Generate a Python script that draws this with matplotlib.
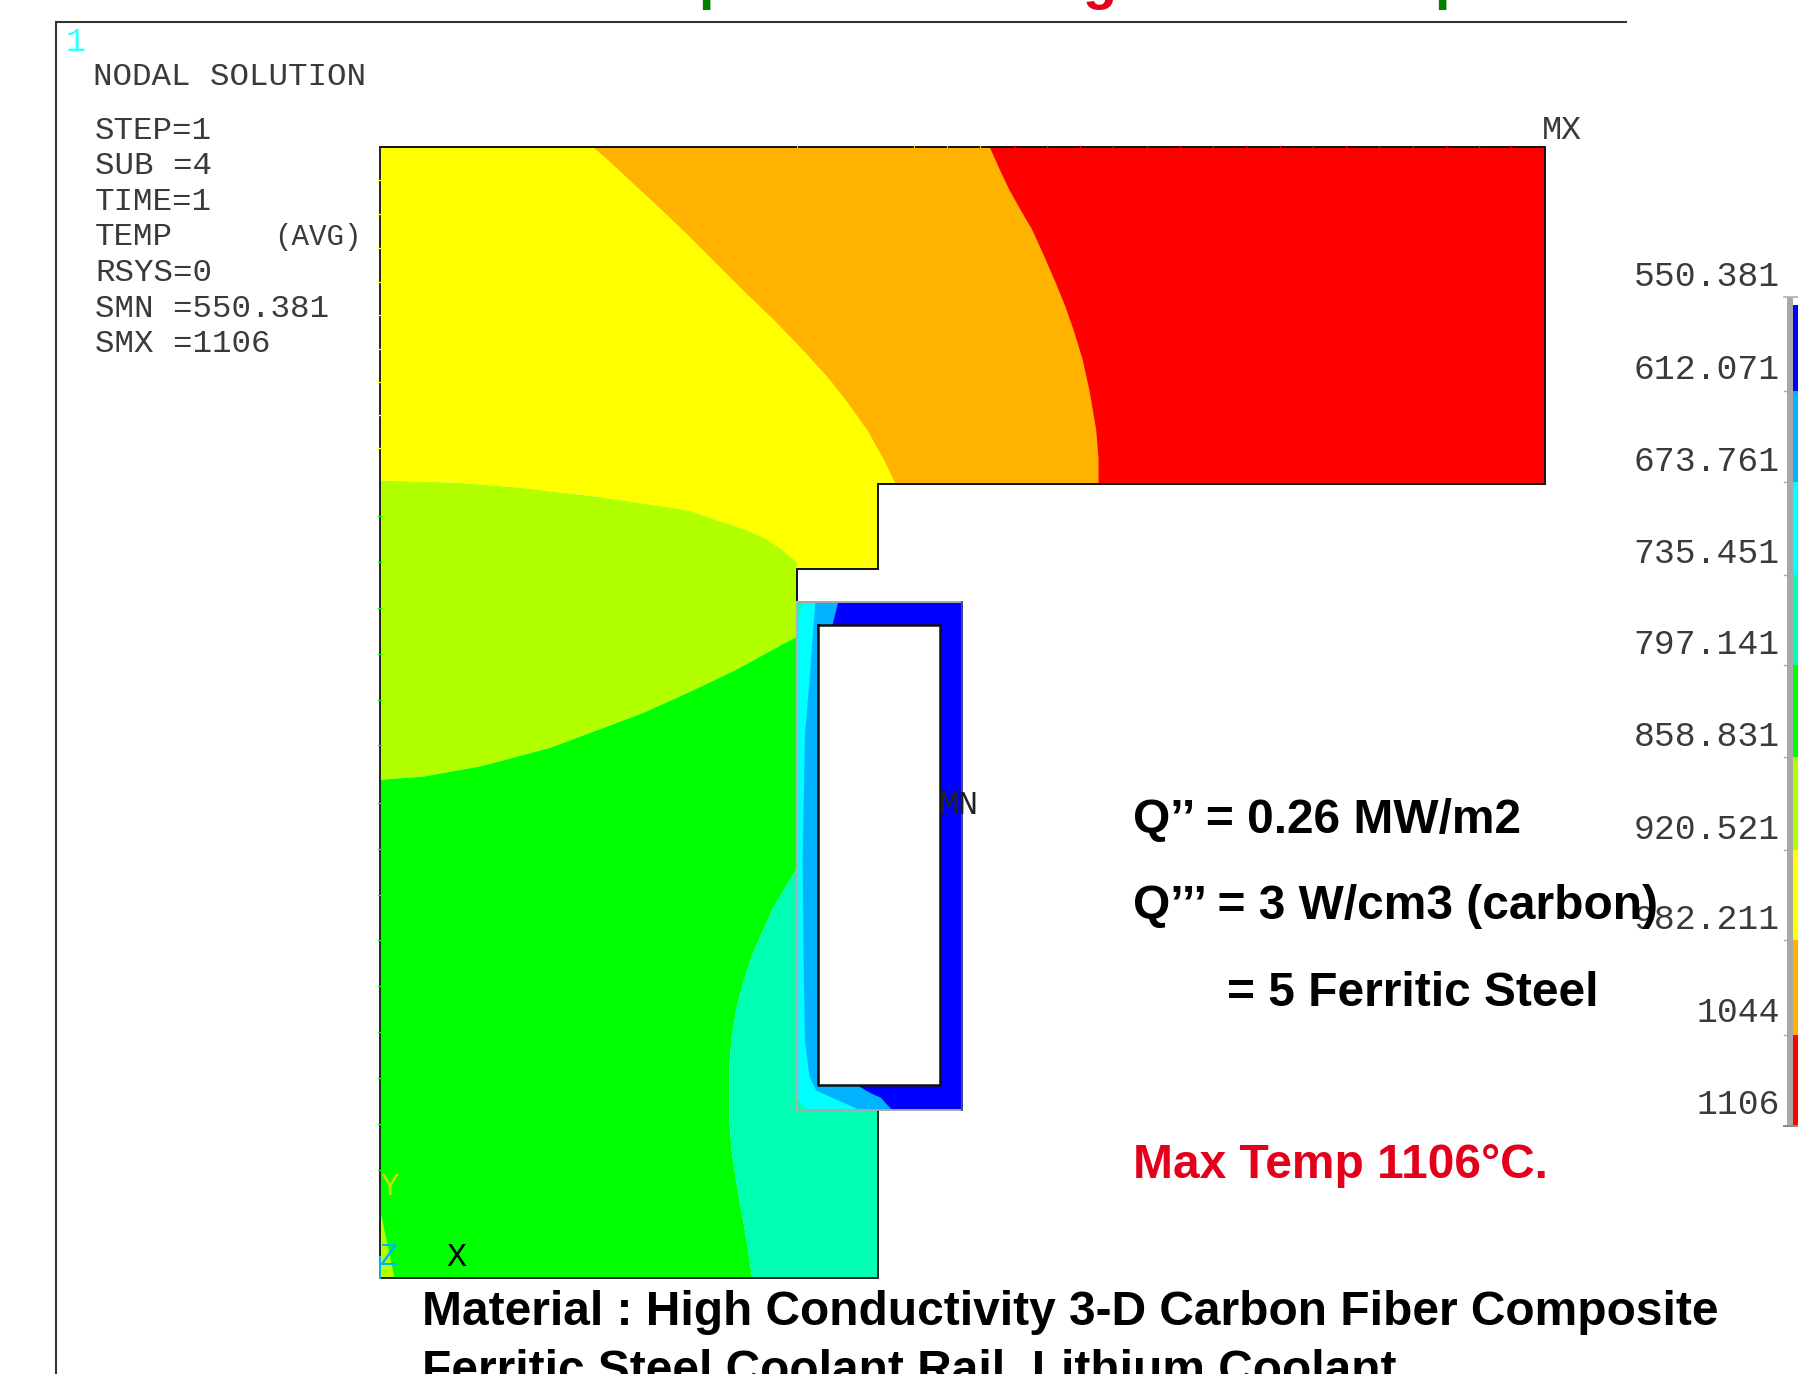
import numpy as np
import matplotlib
matplotlib.use("Agg")
from matplotlib import pyplot as plt

# coordinates below at 1568x1198
W, H = 1568, 1198

BLUE, LBLUE, CYAN, TEAL = "#0000ff", "#00b2ff", "#00ffff", "#00ffb2"
GREEN, LIME, YELLOW, ORANGE, RED = "#00ff00", "#b2ff00", "#ffff00", "#ffb200", "#ff0000"

# contour bands of the solid
yellow_x = [331, 1347, 1347, 766, 766, 695, 695, 680, 650, 600, 520, 450, 400, 331]
yellow_y = [128, 128, 422, 422, 496, 496, 490, 478, 462, 445, 433, 425, 421, 419]
orange_x = [517, 1347, 1347, 781, 772, 757, 740, 722, 700, 676, 650, 625, 600, 575, 550, 533]
orange_y = [128, 128, 422, 422, 403, 376, 352, 329, 305, 280, 255, 230, 205, 181, 158, 142]
red_x = [863, 1347, 1347, 958, 958, 956, 950, 944, 937, 929, 920, 910, 900, 890, 880, 871]
red_y = [128, 128, 422, 422, 400, 375, 340, 313, 290, 267, 245, 222, 200, 183, 165, 146]
lime_x = [331, 400, 450, 520, 600, 650, 668, 680, 695, 695, 640, 600, 560, 520, 480, 420, 370, 331]
lime_y = [419, 421, 425, 433, 445, 462, 470, 478, 490, 555, 585, 604, 622, 637, 652, 668, 677, 680]
green_x = [331, 370, 420, 480, 520, 560, 600, 640, 695, 695, 675, 665, 655, 648, 642, 638, 636, 636, 638, 642, 650, 656, 331]
green_y = [680, 677, 668, 652, 637, 622, 604, 585, 555, 757, 790, 812, 835, 857, 880, 905, 930, 975, 1003, 1030, 1075, 1114, 1114]
teal_x = [695, 695, 766, 766, 656, 650, 642, 638, 636, 636, 638, 642, 648, 655, 665, 675]
teal_y = [757, 968, 968, 1114, 1114, 1075, 1030, 1003, 975, 930, 905, 880, 857, 835, 812, 790]
corner_x = [331, 344, 331]
corner_y = [1052, 1114, 1114]

# coolant rail bands
rail_x = [695, 839, 839, 695]
rail_y = [525, 525, 968, 968]
rail_lb_x = [695, 731, 726, 713, 713, 747, 759, 768, 778, 695]
rail_lb_y = [525, 525, 545, 545, 946, 946, 953, 957, 968, 968]
rail_cy_x = [695, 711, 706, 702, 700, 701, 702, 706, 712, 730, 748, 750, 695]
rail_cy_y = [525, 525, 593, 640, 750, 850, 907, 939, 951, 959, 967, 968, 968]
rail_te1_x = [695, 700, 695]
rail_te1_y = [525, 525, 545]
rail_te2_x = [695, 704, 695]
rail_te2_y = [957, 968, 968]
hole_x = [713, 820, 820, 713]
hole_y = [545, 545, 946, 946]

outline_x = [331, 1347, 1347, 766, 766, 695, 695]
outline_y = [128, 128, 422, 422, 496, 496, 525]
outline2_x = [766, 766, 331, 331]
outline2_y = [968, 1114, 1114, 128]

top_nodes = [695, 797, 826, 855, 884, 913, 942, 971, 1000, 1029, 1058, 1087, 1116, 1145, 1174, 1203, 1232, 1261, 1290, 1317]
top_colors = [ORANGE] * 4 + [RED] * 16
left_nodes = [157, 187, 216, 246, 275, 304, 333, 362, 391, 450, 490, 530, 570, 610, 650, 700, 740, 780, 820, 860, 900, 940, 980, 1020]

# legend
legend_labels = ["550.381", "612.071", "673.761", "735.451", "797.141",
                 "858.831", "920.521", "982.211", "1044", "1106"]
legend_label_y = [240, 321, 401, 482, 561, 641, 722, 801, 882, 962]
legend_edges = [266, 341, 420, 501, 580, 660, 741, 820, 902, 981]
legend_colors = [BLUE, LBLUE, CYAN, TEAL, GREEN, LIME, YELLOW, ORANGE, RED]

info_lines = ["STEP=1", "SUB =4", "TIME=1", "TEMP", "RSYS=0", "SMN =550.381", "SMX =1106"]
info_y = [113, 144, 175, 206, 237, 268, 299]

fig = plt.figure(figsize=(17.98, 13.74), dpi=100)
ax = fig.add_axes([0, 0, 1, 1])
ax.set_xlim(0, W)
ax.set_ylim(H, 0)
ax.axis("off")

MONO = "Liberation Mono"
SANS = "Liberation Sans"
INK = "#3a3a3a"
BOLD = 34.5

for x, y, c in [(yellow_x, yellow_y, YELLOW), (orange_x, orange_y, ORANGE), (red_x, red_y, RED),
                (lime_x, lime_y, LIME), (green_x, green_y, GREEN), (teal_x, teal_y, TEAL),
                (corner_x, corner_y, LIME), (rail_x, rail_y, BLUE), (rail_lb_x, rail_lb_y, LBLUE),
                (rail_cy_x, rail_cy_y, CYAN), (rail_te1_x, rail_te1_y, TEAL), (rail_te2_x, rail_te2_y, TEAL),
                (hole_x, hole_y, "white")]:
    ax.fill(x, y, color=c, lw=0, zorder=2)

# element outlines
ax.plot(outline_x, outline_y, color="#111111", lw=1.4, zorder=3, solid_joinstyle="miter")
ax.plot(outline2_x, outline2_y, color="#222222", lw=1.4, zorder=3, solid_joinstyle="miter")
ax.plot(hole_x + hole_x[:1], hole_y + hole_y[:1], color="#111111", lw=1.8, zorder=3)
ax.plot([695, 695, 839, 839, 695, 695], [757, 525, 525, 968, 968, 757], color="#a8a8a8", lw=1.4, zorder=3)
ax.plot([839, 839], [525, 968], color="#333388", lw=1.2, zorder=3)
ax.plot([695, 695], [525, 968], color="#b0b0b0", lw=1.6, zorder=3)

# nodes showing through the lines
for xn, c in zip(top_nodes, top_colors):
    ax.plot([xn, xn], [127, 129.5], color=c, lw=0.9, zorder=4)
for yn in left_nodes:
    ax.plot([330, 332.5], [yn, yn], color=YELLOW if yn < 420 else GREEN, lw=0.9, zorder=4)
ax.plot([331, 331], [1096, 1114], color=LBLUE, lw=1.4, zorder=4)

# page frame
ax.plot([48.5, 48.5, 1418], [H, 19, 19], color="#333333", lw=1.5, zorder=3, solid_joinstyle="miter")

# plot header
ax.text(66, 37, "1", color="#33ffff", family=MONO, fontsize=24, ha="center", va="center", zorder=5)
ax.text(81, 67.5, "NODAL SOLUTION", color=INK, family=MONO, fontsize=23.4, ha="left", va="center", zorder=5)
for t, y in zip(info_lines, info_y):
    ax.text(83, y + 1, t, color=INK, family=MONO, fontsize=23.4, ha="left", va="center", zorder=5)
ax.text(315, 207, "(AVG)", color=INK, family=MONO, fontsize=21, ha="right", va="center", zorder=5)
ax.text(1362, 114, "MX", color=INK, family=MONO, fontsize=24, ha="center", va="center", zorder=5)
ax.text(836, 702, "MN", color="#222222", family=MONO, fontsize=24, ha="center", va="center", zorder=5)
ax.text(340, 1035, "Y", color="#c8e000", family=MONO, fontsize=22, ha="center", va="center", zorder=5)
ax.text(339, 1096, "Z", color=LBLUE, family=MONO, fontsize=22, ha="center", va="center", zorder=5)
ax.text(398, 1096, "X", color="black", family=MONO, fontsize=24, ha="center", va="center", zorder=5)

# contour legend
for i, c in enumerate(legend_colors):
    ax.fill_between([1563.5, W], legend_edges[i], legend_edges[i + 1], color=c, lw=0, zorder=2)
ax.fill_between([1558.5, 1563.5], 259, 981, color="#a8a8a8", lw=0, zorder=3)
ax.plot([1556, W], [259, 259], color="#b0b0b0", lw=1.2, zorder=3)
ax.plot([1556, W], [981.5, 981.5], color="#888888", lw=1.4, zorder=3)
for e in legend_edges[1:-1]:
    ax.plot([1556, 1560], [e, e], color="#a8a8a8", lw=1, zorder=3)
for t, y in zip(legend_labels, legend_label_y):
    ax.text(1552, y + 1, t, color=INK, family=MONO, fontsize=25, ha="right", va="center", zorder=5)

# slide annotations
ax.text(988, 715, "Q’’ = 0.26 MW/m2", color="black", family=SANS, weight="bold", fontsize=BOLD, ha="left", va="center", zorder=6)
ax.text(988, 790, "Q’’’ = 3 W/cm3 (carbon)", color="black", family=SANS, weight="bold", fontsize=BOLD, ha="left", va="center", zorder=6)
ax.text(1070, 866, "= 5 Ferritic Steel", color="black", family=SANS, weight="bold", fontsize=BOLD, ha="left", va="center", zorder=6)
ax.text(988, 1016, "Max Temp 1106°C.", color="#e3001b", family=SANS, weight="bold", fontsize=BOLD, ha="left", va="center", zorder=6)
ax.text(368, 1144, "Material : High Conductivity 3-D Carbon Fiber Composite", color="black", family=SANS, weight="bold", fontsize=BOLD, ha="left", va="center", zorder=6)
ax.text(368, 1195, "Ferritic Steel Coolant Rail, Lithium Coolant", color="black", family=SANS, weight="bold", fontsize=BOLD, ha="left", va="center", zorder=6)

# title cut off by the page, only the descenders remain
ax.text(609, -2, "p", color="#008000", family=SANS, weight="bold", fontsize=40, ha="left", va="baseline", zorder=6)
ax.text(944, -2, "g", color="#e3001b", family=SANS, weight="bold", fontsize=40, ha="left", va="baseline", zorder=6)
ax.text(1251, -2, "p", color="#008000", family=SANS, weight="bold", fontsize=40, ha="left", va="baseline", zorder=6)

fig.savefig("out.png", dpi=100)
